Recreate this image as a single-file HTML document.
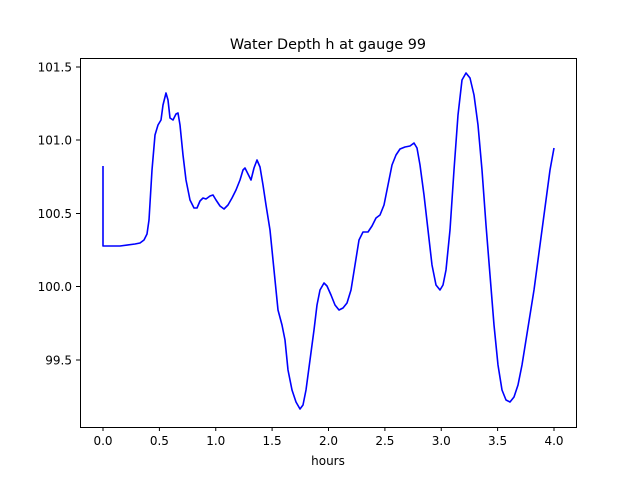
<!DOCTYPE html>
<html><head><meta charset="utf-8"><style>body{margin:0;background:#fff}svg{display:block}text{font-family:"DejaVu Sans","Liberation Sans",sans-serif;fill:#000}</style></head>
<body>
<svg width="640" height="480" viewBox="0 0 640 480" xmlns="http://www.w3.org/2000/svg">
<rect width="640" height="480" fill="#fff"/>
<polyline fill="none" stroke="#0000ff" stroke-width="1.6" stroke-linejoin="round" points="103,166 103,246 120,246 135,244 140,243 144,240 147,234 149,220 152,170 155,135 158,125 161,120 163,105 166,93 168,100 170,118 173,120 176,114 178,113 180,125 183,155 186,180 190,200 194,208 197,208 200,201 203,198 206,199 210,196 213,195 216,200 220,206 224,209 228,205 232,198 236,190 240,180 243,170 245,168 248,174 251,180 254,168 257,160 260,167 263,185 266,205 270,230 273,260 276,290 278,310 282,325 285,340 288,370 292,390 296,402 300,409 303,405 306,390 310,360 314,330 317,305 320,290 324,283 327,286 331,295 335,305 339,310 343,308 347,303 351,290 355,265 359,240 363,232 368,232 372,226 376,218 380,215 384,205 388,185 392,165 396,155 400,149 405,147 410,146 414,143 417,148 420,165 424,195 428,230 432,265 436,285 440,290 443,285 446,270 450,230 454,170 458,115 462,80 466,73 470,78 474,95 478,125 482,170 486,225 490,275 494,325 498,365 502,390 506,400 510,402 514,397 518,385 522,365 526,340 530,315 534,290 538,260 542,230 546,200 550,170 554,148"/>
<rect x="80.5" y="58.5" width="496" height="369" fill="none" stroke="#000" stroke-width="1"/>
<g stroke="#000" stroke-width="1">
<line x1="103" y1="427" x2="103" y2="431"/><line x1="159.4" y1="427" x2="159.4" y2="431"/><line x1="215.75" y1="427" x2="215.75" y2="431"/><line x1="272.1" y1="427" x2="272.1" y2="431"/><line x1="328.5" y1="427" x2="328.5" y2="431"/><line x1="384.9" y1="427" x2="384.9" y2="431"/><line x1="441.25" y1="427" x2="441.25" y2="431"/><line x1="497.6" y1="427" x2="497.6" y2="431"/><line x1="554" y1="427" x2="554" y2="431"/>
<line x1="76" y1="67" x2="80" y2="67"/><line x1="76" y1="140" x2="80" y2="140"/><line x1="76" y1="213.5" x2="80" y2="213.5"/><line x1="76" y1="286.5" x2="80" y2="286.5"/><line x1="76" y1="360" x2="80" y2="360"/>
</g>
<g font-size="12" text-anchor="middle">
<text x="103" y="445">0.0</text><text x="159.4" y="445">0.5</text><text x="215.75" y="445">1.0</text><text x="272.1" y="445">1.5</text><text x="328.5" y="445">2.0</text><text x="384.9" y="445">2.5</text><text x="441.25" y="445">3.0</text><text x="497.6" y="445">3.5</text><text x="554" y="445">4.0</text>
<text x="328" y="465">hours</text>
</g>
<g font-size="12" text-anchor="end">
<text x="72" y="71.5">101.5</text><text x="72" y="144.5">101.0</text><text x="72" y="218">100.5</text><text x="72" y="291">100.0</text><text x="72" y="364.5">99.5</text>
</g>
<text x="328" y="49" font-size="14.4" text-anchor="middle">Water Depth h at gauge 99</text>
</svg>
</body></html>
